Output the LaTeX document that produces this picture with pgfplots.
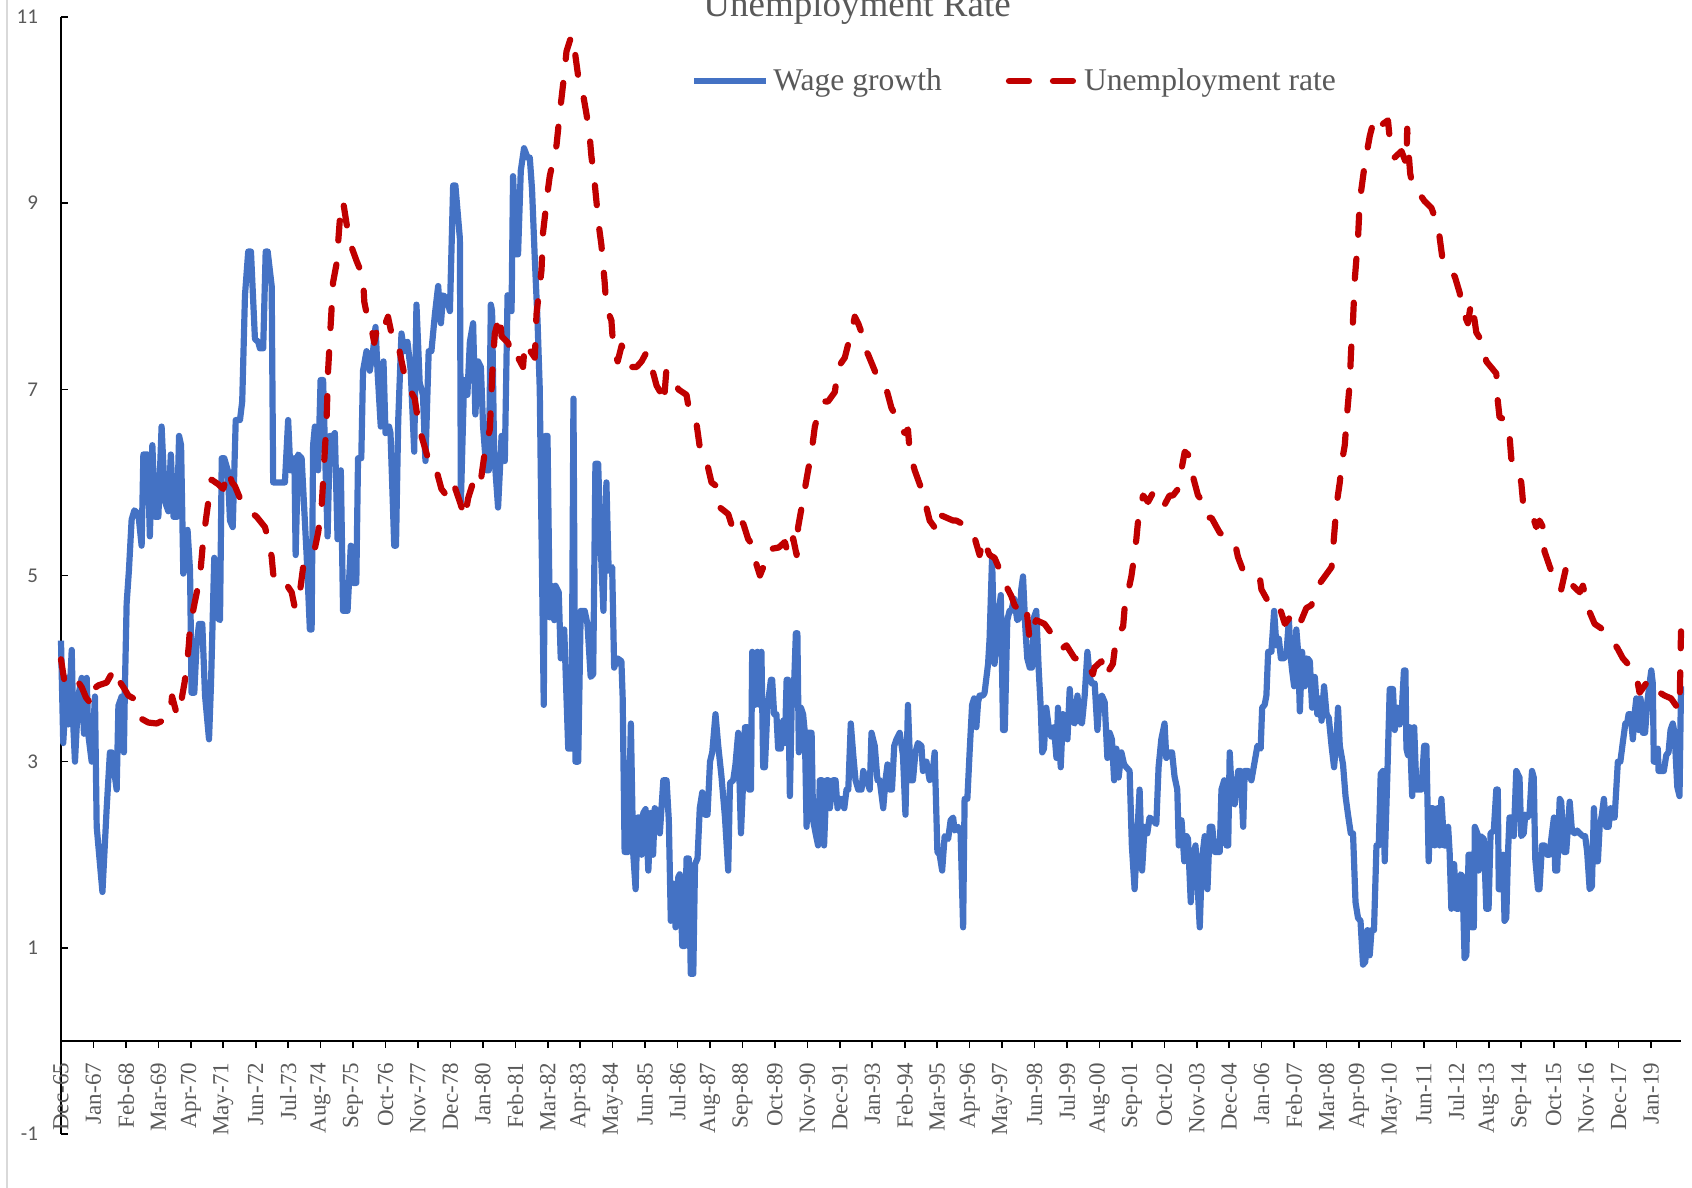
\documentclass[border=0pt]{standalone}
\usepackage{fontspec}
\setmainfont{Liberation Serif}
\newfontfamily\calibri{Carlito}
\usepackage{pgfplots}
\pgfplotsset{compat=1.18}
\definecolor{wblue}{HTML}{4472C4}
\definecolor{ured}{HTML}{C00000}
\definecolor{txtgray}{HTML}{595959}
\pgfplotsset{
  bluelegend/.style={legend image code/.code={\draw[##1] (0pt,0pt) -- (36pt,0pt);}},
  redlegend/.style={legend image code/.code={\draw[##1] (0pt,0pt) -- (34pt,0pt);}},
}
\begin{document}
\begin{tikzpicture}
\begin{axis}[
  at={(0,0)}, anchor=south west,
  scale only axis, width=810pt, height=558.5pt,
  xmin=0, xmax=649, ymin=-1, ymax=11,
  axis x line=middle, axis y line=left,
  axis line style={-, black, line width=1pt},
  hide obscured x ticks=false,
  xtick={0,13,...,637},
  xticklabels={Dec-65,Jan-67,Feb-68,Mar-69,Apr-70,May-71,Jun-72,Jul-73,Aug-74,Sep-75,Oct-76,Nov-77,Dec-78,Jan-80,Feb-81,Mar-82,Apr-83,May-84,Jun-85,Jul-86,Aug-87,Sep-88,Oct-89,Nov-90,Dec-91,Jan-93,Feb-94,Mar-95,Apr-96,May-97,Jun-98,Jul-99,Aug-00,Sep-01,Oct-02,Nov-03,Dec-04,Jan-06,Feb-07,Mar-08,Apr-09,May-10,Jun-11,Jul-12,Aug-13,Sep-14,Oct-15,Nov-16,Dec-17,Jan-19},
  ytick={-1,1,3,5,7,9,11},
  yticklabels={-1,1,3,5,7,9,11},
  xtick align=outside, ytick align=inside,
  major tick length=3.5pt,
  tick style={black, line width=0.8pt},
  xticklabel style={rotate=90, anchor=east, xshift=-4pt, font=\fontsize{11.5}{11.5}\selectfont, text=txtgray},
  yticklabel style={font=\calibri\fontsize{10.5}{10.5}\selectfont, text=txtgray, xshift=-8pt},
  clip=false,
  legend columns=2,
  legend style={draw=none, fill=none, at={(0.385,0.9427)}, anchor=west,
    font=\fontsize{15.8}{15.8}\selectfont, text=txtgray,
    /tikz/every even column/.append style={column sep=30pt}},
]
\addplot[wblue, line width=3.1pt, line join=round, bluelegend] table[row sep=\\] {x y\\
0 4.3\\ 0.9 3.2\\ 2.3 3.9\\ 2.9 3.4\\ 4.3 4.2\\ 4.9 3.4\\ 5.6 3.0\\ 6.9 3.7\\ 8.3 3.9\\ 9.2 3.3\\ 10.3 3.9\\ 10.9 3.3\\ 12.3 3.0\\ 13.6 3.7\\ 14.3 2.3\\ 16.6 1.6\\ 18.3 2.5\\ 19.6 3.1\\ 20.3 3.1\\ 22.3 2.7\\ 23 3.6\\ 24.3 3.7\\ 25.2 3.1\\ 25.6 3.8\\ 26.3 4.7\\ 27.2 5.05\\ 28.3 5.6\\ 29.4 5.7\\ 31 5.66\\ 32.3 5.32\\ 33 6.3\\ 34.7 6.3\\ 35.6 5.42\\ 36.6 6.4\\ 37.7 5.63\\ 39 5.63\\ 40.3 6.6\\ 41.7 5.79\\ 43 5.69\\ 44 6.3\\ 45.1 5.63\\ 46.5 5.63\\ 47.3 6.5\\ 48.1 6.4\\ 49 5.02\\ 50.7 5.49\\ 51.7 5.05\\ 52.3 3.74\\ 53.4 3.74\\ 54.3 4.25\\ 55.3 4.48\\ 56.6 4.48\\ 57.7 3.71\\ 59.3 3.24\\ 60.1 3.84\\ 61.4 5.19\\ 62.6 4.55\\ 63.7 4.52\\ 64.4 6.26\\ 65.4 6.26\\ 66.8 6.13\\ 67.7 5.59\\ 68.8 5.52\\ 70 6.67\\ 71.7 6.67\\ 72.6 6.87\\ 73.7 8.01\\ 75 8.48\\ 76.1 8.48\\ 77.7 7.54\\ 79 7.51\\ 79.7 7.44\\ 81 7.44\\ 82 8.48\\ 82.8 8.48\\ 84.4 8.11\\ 85 6.0\\ 86.4 6.0\\ 89.7 6.0\\ 91 6.67\\ 91.9 6.13\\ 93.5 6.26\\ 94 5.22\\ 95 6.3\\ 96.4 6.26\\ 98.4 5.22\\ 99.7 4.42\\ 100.4 4.42\\ 101 6.4\\ 101.7 6.6\\ 103 6.13\\ 104 7.1\\ 105 7.1\\ 106 6.13\\ 106.8 5.42\\ 107.7 6.5\\ 109 6.5\\ 109.7 6.53\\ 110.8 5.39\\ 112.1 6.13\\ 113 4.62\\ 114.8 4.62\\ 116.1 5.32\\ 117 4.92\\ 118.3 4.92\\ 119 6.26\\ 120.3 6.26\\ 121 7.2\\ 122.4 7.41\\ 123.7 7.2\\ 125 7.41\\ 126 7.67\\ 126.8 7.2\\ 128.1 6.6\\ 129.2 7.3\\ 130 6.53\\ 131.4 6.6\\ 132 6.53\\ 133.5 5.32\\ 134.2 5.32\\ 135.1 6.67\\ 136.4 7.6\\ 137.5 7.41\\ 138.8 7.51\\ 140.1 7.2\\ 141.5 6.33\\ 142.4 7.91\\ 143.7 7.07\\ 145 6.94\\ 146 6.23\\ 147.3 7.41\\ 148.4 7.41\\ 149.8 7.81\\ 151.1 8.11\\ 152.2 7.71\\ 153.1 8.01\\ 154.4 7.98\\ 155.8 7.84\\ 157.1 9.19\\ 158 9.19\\ 159.8 8.62\\ 160.2 5.79\\ 161.5 7.1\\ 162.8 6.94\\ 163.8 7.51\\ 165.1 7.71\\ 166 6.73\\ 167.1 7.3\\ 168.2 7.24\\ 169.1 6.6\\ 170.4 6.13\\ 171.4 6.13\\ 172.2 7.91\\ 172.7 7.84\\ 173.5 6.33\\ 175.1 5.73\\ 176.5 6.5\\ 177.8 6.23\\ 178.9 8.01\\ 180.5 7.84\\ 181.1 9.29\\ 182.5 8.45\\ 183.1 8.45\\ 184.2 9.35\\ 185.5 9.59\\ 186.9 9.49\\ 187.8 9.49\\ 188.7 9.15\\ 189.8 8.41\\ 190.9 7.74\\ 191.8 7.0\\ 192.5 5.46\\ 193.4 3.61\\ 194.1 6.5\\ 194.9 6.5\\ 195.8 4.55\\ 196.5 4.89\\ 197.6 4.52\\ 198.1 4.89\\ 199.4 4.82\\ 200.2 4.11\\ 201.6 4.42\\ 203.2 3.14\\ 204.5 3.14\\ 205.3 6.9\\ 206.1 3.0\\ 207.2 3.0\\ 208.2 4.62\\ 209.8 4.62\\ 210.9 4.48\\ 212.2 3.91\\ 213.2 3.94\\ 214.1 6.2\\ 215.2 6.2\\ 216.2 5.32\\ 217.3 4.62\\ 218.5 6.0\\ 219.4 5.05\\ 220.8 5.09\\ 221.6 4.01\\ 222.9 4.11\\ 224.5 4.08\\ 225 3.7\\ 225.8 2.03\\ 227.2 2.03\\ 228.3 3.41\\ 229.2 2.03\\ 230.2 1.63\\ 231 2.4\\ 231.9 2.4\\ 232.6 2.0\\ 233.3 2.45\\ 234.2 2.49\\ 235.3 1.83\\ 236.3 2.45\\ 237.2 2.0\\ 237.9 2.5\\ 239 2.45\\ 239.9 2.23\\ 241.3 2.8\\ 242.6 2.8\\ 243.5 2.37\\ 244.3 1.29\\ 245.3 1.69\\ 246.2 1.22\\ 247.3 1.76\\ 247.9 1.79\\ 248.9 1.02\\ 249.9 1.02\\ 250.6 1.96\\ 251.5 1.96\\ 252.3 0.72\\ 253.3 0.72\\ 254 1.9\\ 255 1.96\\ 255.9 2.5\\ 256.9 2.67\\ 258 2.43\\ 259 2.43\\ 260 3.0\\ 260.9 3.1\\ 262.2 3.51\\ 263.3 3.17\\ 264.6 2.84\\ 266 2.4\\ 267.3 1.83\\ 268 2.77\\ 269.3 2.8\\ 270.2 2.97\\ 271.3 3.31\\ 272.4 2.23\\ 273.3 2.8\\ 274 3.37\\ 275 3.37\\ 275.6 2.7\\ 276.4 2.7\\ 276.9 4.18\\ 278 3.61\\ 279 4.18\\ 279.9 3.61\\ 280.6 4.18\\ 281.3 2.94\\ 282 2.94\\ 283 3.58\\ 284.4 3.88\\ 284.9 3.88\\ 285.7 3.51\\ 286.6 3.51\\ 287.3 3.14\\ 288.4 3.14\\ 289.3 3.44\\ 290 3.2\\ 290.7 3.88\\ 291.3 3.88\\ 292 2.63\\ 292.9 3.84\\ 293.7 3.84\\ 294.4 4.38\\ 295 4.38\\ 295.6 3.1\\ 296.4 3.58\\ 297.3 3.51\\ 298 3.31\\ 298.7 2.3\\ 299.3 3.31\\ 300.7 3.31\\ 301.3 2.37\\ 302.3 2.23\\ 303.3 2.1\\ 304 2.8\\ 304.9 2.8\\ 305.7 2.1\\ 306.7 2.8\\ 307.4 2.8\\ 308 2.5\\ 309.3 2.8\\ 310.3 2.8\\ 311.1 2.5\\ 312.4 2.6\\ 313.8 2.5\\ 314.7 2.7\\ 315.4 2.7\\ 316.4 3.41\\ 317.4 3.07\\ 318.3 2.8\\ 319.4 2.7\\ 320.7 2.7\\ 321.4 2.9\\ 322.7 2.8\\ 324 2.7\\ 324.7 3.31\\ 326 3.17\\ 327.1 2.8\\ 328 2.8\\ 329.4 2.5\\ 330.3 2.8\\ 331.1 2.97\\ 332 2.7\\ 332.9 2.7\\ 333.8 3.17\\ 334.7 3.24\\ 336 3.31\\ 337.3 3.07\\ 338.3 2.43\\ 339.3 3.61\\ 340.4 2.8\\ 341.3 2.8\\ 342.3 3.1\\ 343.3 3.2\\ 344.7 3.17\\ 345.3 2.9\\ 346.7 3.0\\ 348 2.8\\ 349 2.83\\ 350 3.1\\ 351.1 2.03\\ 352 2.0\\ 353 1.83\\ 354 2.2\\ 355.4 2.17\\ 356.4 2.37\\ 357.4 2.4\\ 358 2.26\\ 359.4 2.3\\ 360.4 2.23\\ 361.4 1.22\\ 362 2.6\\ 363.1 2.6\\ 364 3.1\\ 365 3.61\\ 365.8 3.68\\ 366.7 3.37\\ 367.4 3.64\\ 368 3.71\\ 369.4 3.71\\ 370 3.74\\ 371.4 4.05\\ 372 4.32\\ 373 5.19\\ 374 4.05\\ 375.4 4.55\\ 376.5 4.79\\ 377.4 3.34\\ 378.1 3.34\\ 379.1 4.52\\ 380 4.62\\ 380.7 4.62\\ 381.8 4.75\\ 383.1 4.52\\ 384.1 4.55\\ 384.7 4.85\\ 385.4 4.99\\ 386.3 4.45\\ 387.1 4.11\\ 388.1 4.01\\ 389 4.01\\ 389.8 4.55\\ 390.7 4.62\\ 391.7 3.98\\ 392.5 3.58\\ 393.1 3.1\\ 393.8 3.14\\ 394.7 3.58\\ 395.7 3.37\\ 396.7 3.27\\ 397.8 3.37\\ 398.8 3.04\\ 399.4 3.58\\ 400.5 2.94\\ 401.4 3.51\\ 402.4 3.47\\ 403.2 3.24\\ 404.1 3.78\\ 405 3.44\\ 406.1 3.41\\ 407.2 3.71\\ 408.1 3.44\\ 409 3.41\\ 410.1 3.71\\ 411.2 4.18\\ 412.1 3.91\\ 413 3.84\\ 414.1 3.84\\ 415.2 3.34\\ 416.1 3.68\\ 417 3.71\\ 418.1 3.64\\ 419.2 3.04\\ 420.1 3.31\\ 421 3.24\\ 421.9 2.8\\ 422.8 3.14\\ 423.7 2.83\\ 424.8 3.1\\ 425.9 2.97\\ 426.8 2.94\\ 428.1 2.9\\ 429 2.1\\ 430.1 1.63\\ 431.2 2.23\\ 432.1 2.7\\ 433.1 1.83\\ 434.1 2.3\\ 435.2 2.23\\ 436.1 2.4\\ 437.5 2.37\\ 438.8 2.33\\ 439.7 2.94\\ 440.8 3.24\\ 442.1 3.41\\ 442.8 3.04\\ 444.1 3.1\\ 445.1 3.1\\ 446.1 2.84\\ 447.2 2.7\\ 447.8 2.1\\ 448.9 2.37\\ 450 1.93\\ 450.9 2.2\\ 451.5 2.17\\ 452.6 1.49\\ 453.5 1.96\\ 454.5 2.1\\ 455.3 1.69\\ 456.2 1.22\\ 457.1 1.96\\ 458.2 2.2\\ 459.3 1.63\\ 460.2 2.3\\ 461.2 2.3\\ 462.2 2.03\\ 464.2 2.03\\ 464.9 2.7\\ 466 2.8\\ 466.9 2.1\\ 467.6 2.1\\ 468.2 3.1\\ 469.2 2.57\\ 470.2 2.54\\ 471.6 2.9\\ 472.6 2.9\\ 473.6 2.3\\ 474.2 2.9\\ 475.5 2.9\\ 476.9 2.8\\ 478.2 3.0\\ 479.3 3.17\\ 480.6 3.14\\ 481.2 3.58\\ 482.2 3.61\\ 482.9 3.71\\ 483.6 4.18\\ 484.9 4.18\\ 486 4.62\\ 486.9 4.25\\ 487.9 4.32\\ 488.7 4.11\\ 490 4.11\\ 490.9 4.15\\ 491.9 4.52\\ 492.7 4.11\\ 493.2 3.98\\ 494 3.81\\ 494.9 4.42\\ 495.6 4.18\\ 496.3 3.54\\ 497.2 4.18\\ 498.3 3.81\\ 499.3 4.11\\ 500.3 4.08\\ 501.2 3.58\\ 502.3 3.91\\ 503.3 3.51\\ 504.3 3.68\\ 505 3.44\\ 506 3.81\\ 507 3.51\\ 507.9 3.47\\ 509 3.17\\ 510 2.94\\ 511 3.24\\ 511.6 3.58\\ 512.3 3.17\\ 513.6 2.97\\ 514.6 2.63\\ 515.6 2.43\\ 516.7 2.23\\ 517.6 2.23\\ 518.6 1.49\\ 519.6 1.32\\ 520.6 1.29\\ 521.6 0.82\\ 522.5 0.85\\ 523.4 1.19\\ 524.3 0.92\\ 525 1.19\\ 526 1.19\\ 527 2.1\\ 527.9 2.1\\ 528.7 2.87\\ 529.6 2.9\\ 530.3 1.93\\ 531.4 2.9\\ 532.3 3.78\\ 533.6 3.78\\ 534.3 3.34\\ 535.4 3.58\\ 536.3 3.4\\ 537.2 3.58\\ 538 3.98\\ 538.6 3.98\\ 539 3.14\\ 539.6 3.07\\ 540.3 3.37\\ 541.3 2.63\\ 542.1 3.37\\ 543 2.7\\ 545 2.7\\ 546.1 3.17\\ 547 3.17\\ 547.9 1.93\\ 548.7 2.5\\ 549.6 2.5\\ 550.3 2.1\\ 551.4 2.5\\ 552.3 2.1\\ 553 2.6\\ 554.1 2.1\\ 555 2.1\\ 555.7 2.3\\ 556.3 2.03\\ 557 1.42\\ 558.1 1.9\\ 559 1.42\\ 560 1.42\\ 560.7 1.79\\ 561.4 1.77\\ 562.3 0.89\\ 563 0.92\\ 563.9 2.0\\ 564.7 2.0\\ 565.2 1.22\\ 566 1.22\\ 566.4 2.3\\ 567.4 2.23\\ 567.9 1.83\\ 568.7 2.2\\ 570 2.17\\ 571 1.42\\ 571.9 1.42\\ 572.7 2.23\\ 574 2.26\\ 575 2.7\\ 575.6 2.7\\ 576 1.63\\ 576.9 1.63\\ 577.7 2.0\\ 578.3 1.29\\ 579 1.32\\ 579.7 2.03\\ 580.3 2.4\\ 581.2 2.4\\ 582 2.2\\ 583 2.9\\ 584.3 2.83\\ 585 2.2\\ 586 2.23\\ 586.6 2.43\\ 587.4 2.4\\ 588.3 2.43\\ 589.3 2.9\\ 590 2.83\\ 590.6 1.96\\ 591.7 1.63\\ 592.3 1.63\\ 593.3 2.1\\ 594.3 2.1\\ 595.4 2.0\\ 596.3 2.0\\ 597.3 2.23\\ 598.1 2.4\\ 598.6 1.83\\ 599.4 1.83\\ 600.4 2.6\\ 601 2.57\\ 602.1 2.03\\ 603 2.03\\ 604.4 2.57\\ 605.3 2.26\\ 606.4 2.23\\ 607.4 2.26\\ 608.4 2.23\\ 609.7 2.2\\ 610.6 2.2\\ 611.4 2.03\\ 612.4 1.63\\ 613.3 1.66\\ 614.1 2.5\\ 615 1.93\\ 615.7 1.93\\ 616.4 2.3\\ 617.3 2.43\\ 618.1 2.6\\ 619 2.3\\ 620 2.3\\ 620.8 2.5\\ 621.7 2.4\\ 622.4 2.4\\ 623.7 3.0\\ 624.7 3.0\\ 625.7 3.21\\ 626.7 3.41\\ 627.4 3.41\\ 628 3.51\\ 628.8 3.51\\ 629.7 3.24\\ 630.4 3.51\\ 631.1 3.68\\ 632 3.34\\ 632.8 3.68\\ 633.7 3.31\\ 634.6 3.31\\ 635.5 3.64\\ 636.4 3.84\\ 637.1 3.98\\ 637.7 3.84\\ 638.1 3.0\\ 639 3.0\\ 639.7 3.14\\ 640 2.9\\ 641 2.9\\ 642.1 2.9\\ 643.1 3.07\\ 644 3.1\\ 644.8 3.34\\ 645.7 3.41\\ 646.4 3.31\\ 647.5 2.73\\ 648.4 2.63\\ 649 3.81\\
};
\addlegendentry{Wage growth}
\addplot[ured, line width=3.1pt, line cap=round, line join=round, dash pattern=on 10pt off 12pt, redlegend] table[row sep=\\] {x y\\
0 4.1\\ 1.6 3.82\\ 4 3.85\\ 6.3 3.88\\ 8.3 3.8\\ 10 3.69\\ 12.3 3.61\\ 13 3.78\\ 15 3.82\\ 18.3 3.85\\ 21 3.98\\ 22 4.0\\ 23 3.88\\ 25 3.8\\ 27 3.71\\ 29 3.68\\ 30.3 3.54\\ 31.6 3.47\\ 35 3.42\\ 38.3 3.41\\ 41.5 3.45\\ 43.7 3.5\\ 44.5 3.7\\ 46 3.55\\ 47.7 3.5\\ 48.5 3.7\\ 49.5 3.85\\ 50.5 4.05\\ 51.2 4.25\\ 51.7 4.45\\ 53.5 4.7\\ 55.7 4.99\\ 57 5.39\\ 59 5.79\\ 60.3 6.03\\ 63 5.98\\ 65 5.93\\ 67 6.13\\ 68.5 6.0\\ 69.7 5.96\\ 71.7 5.83\\ 73 5.79\\ 75.7 5.69\\ 78.4 5.63\\ 81.7 5.52\\ 83 5.39\\ 84.4 5.2\\ 85 5.02\\ 86.4 4.92\\ 88.4 4.95\\ 90.4 4.9\\ 92.4 4.82\\ 93.7 4.65\\ 95.7 4.82\\ 97 5.09\\ 100.4 5.26\\ 101.7 5.29\\ 103 5.46\\ 104.4 5.73\\ 106.4 6.67\\ 107 7.2\\ 109 8.15\\ 110.4 8.35\\ 111.7 8.82\\ 113 9.02\\ 114.4 8.78\\ 115.7 8.58\\ 118.4 8.38\\ 121 8.21\\ 121.5 7.94\\ 123 7.74\\ 124 7.71\\ 125.5 7.5\\ 126.4 7.62\\ 128 7.7\\ 129 7.64\\ 131 7.78\\ 132.4 7.6\\ 135 7.54\\ 135.7 7.4\\ 137.7 7.14\\ 139.7 7.0\\ 141.7 6.9\\ 143 6.67\\ 144.4 6.5\\ 147 6.26\\ 149 6.13\\ 150.4 6.13\\ 152.4 5.93\\ 154.4 5.86\\ 157.1 6.0\\ 159.8 5.79\\ 161.8 5.62\\ 163.1 5.83\\ 165.1 6.0\\ 166.4 5.93\\ 168.4 6.06\\ 169.8 6.33\\ 171.8 6.57\\ 173 7.3\\ 173.8 7.6\\ 175.8 7.8\\ 176.5 7.57\\ 179.1 7.5\\ 179.8 7.44\\ 181.8 7.3\\ 183.1 7.34\\ 185.1 7.24\\ 185.8 7.5\\ 189.8 7.34\\ 190.5 7.81\\ 192.5 8.28\\ 193.1 8.68\\ 195.1 9.15\\ 195.8 9.29\\ 198.5 9.62\\ 199.8 9.96\\ 201.8 10.43\\ 202.5 10.63\\ 204.5 10.8\\ 205.5 10.7\\ 207.2 10.36\\ 209.2 10.16\\ 210.5 9.96\\ 211.8 9.72\\ 212.5 9.5\\ 213.5 9.3\\ 214.5 9.02\\ 215.5 8.75\\ 216.5 8.55\\ 217.3 8.3\\ 217.8 8.15\\ 218.5 7.88\\ 220.5 7.74\\ 221.2 7.47\\ 223 7.3\\ 224.6 7.47\\ 225.9 7.4\\ 227.9 7.24\\ 230.6 7.24\\ 232.6 7.3\\ 234.6 7.4\\ 236.6 7.24\\ 238.6 7.04\\ 240.5 6.95\\ 241.5 6.85\\ 242.5 7.2\\ 245.9 7.14\\ 247.3 7.0\\ 250.6 6.94\\ 251.9 6.73\\ 254.6 6.63\\ 256 6.36\\ 258.6 6.23\\ 260.6 6.0\\ 262.6 5.96\\ 264 5.73\\ 267.3 5.66\\ 269.3 5.49\\ 270 5.59\\ 273.3 5.56\\ 275.3 5.39\\ 277.3 5.32\\ 278.6 5.12\\ 280 5.0\\ 281.5 5.1\\ 282.6 5.26\\ 285.3 5.29\\ 287.5 5.3\\ 290 5.36\\ 291.3 5.22\\ 293.3 5.4\\ 294.7 5.22\\ 295.3 5.52\\ 296.7 5.73\\ 298 5.93\\ 299.3 6.13\\ 300.7 6.33\\ 302 6.6\\ 303.3 6.73\\ 306 6.87\\ 307.3 6.87\\ 310 6.97\\ 311.4 7.24\\ 314 7.34\\ 315.5 7.5\\ 316.7 7.61\\ 318 7.78\\ 319.5 7.7\\ 320.7 7.61\\ 322 7.44\\ 323.4 7.37\\ 326 7.2\\ 327.4 7.1\\ 330.7 7.0\\ 332.7 6.8\\ 334.7 6.7\\ 336 6.6\\ 338 6.53\\ 339.3 6.57\\ 340 6.33\\ 342 6.13\\ 344.7 5.93\\ 346.7 5.73\\ 348 5.59\\ 350.7 5.49\\ 351.4 5.66\\ 357.4 5.59\\ 358.7 5.59\\ 363.4 5.52\\ 365.4 5.46\\ 368 5.22\\ 369.4 5.39\\ 372 5.22\\ 374 5.19\\ 376.7 5.02\\ 378 4.92\\ 380.7 4.78\\ 382 4.68\\ 384 4.62\\ 386.7 4.68\\ 388 4.31\\ 388.7 4.42\\ 390.7 4.52\\ 394 4.48\\ 396.7 4.38\\ 398.8 4.28\\ 400.8 4.21\\ 402.8 4.25\\ 406.1 4.11\\ 410 4.11\\ 413.4 3.94\\ 414 4.01\\ 416.8 4.08\\ 418.1 3.91\\ 421.4 4.05\\ 422.8 4.35\\ 425.5 4.45\\ 426.1 4.65\\ 428.8 4.99\\ 429.5 5.12\\ 430.8 5.39\\ 431.5 5.59\\ 433.5 5.86\\ 435.5 5.79\\ 437.5 5.89\\ 441.5 5.73\\ 444.1 5.86\\ 445.5 5.86\\ 447.5 5.93\\ 448.8 6.13\\ 450.2 6.33\\ 451.5 6.3\\ 453.5 6.06\\ 455.5 5.86\\ 457.5 5.79\\ 459.5 5.62\\ 460.9 5.62\\ 464.2 5.46\\ 466.2 5.42\\ 470.2 5.36\\ 471.5 5.2\\ 473.6 5.05\\ 476.2 5.02\\ 480.2 4.99\\ 480.9 4.85\\ 483.6 4.72\\ 484.9 4.65\\ 486.9 4.62\\ 488.3 4.65\\ 490.3 4.48\\ 492.3 4.55\\ 492.9 4.45\\ 494.9 4.45\\ 496.9 4.52\\ 498.9 4.65\\ 500.9 4.68\\ 503.6 4.89\\ 509 5.09\\ 510.3 5.52\\ 511 5.76\\ 512.3 6.0\\ 513 6.2\\ 514.3 6.4\\ 515 6.67\\ 516.3 7.07\\ 516.8 7.4\\ 517.6 7.74\\ 518.3 8.18\\ 519.6 8.62\\ 520.3 9.02\\ 522.3 9.42\\ 524.3 9.72\\ 526.3 9.93\\ 527.6 9.86\\ 529.5 9.85\\ 531.6 9.89\\ 532.3 9.69\\ 534.3 9.49\\ 537 9.56\\ 539 9.42\\ 539.3 9.8\\ 539.7 9.6\\ 540.5 9.32\\ 541.7 9.15\\ 543.7 9.12\\ 546.3 9.02\\ 549 8.95\\ 551.7 8.75\\ 552.7 8.55\\ 553.7 8.35\\ 556 8.3\\ 558.4 8.21\\ 560.3 8.04\\ 561.6 7.84\\ 563.6 7.71\\ 565 7.94\\ 566.3 7.74\\ 567 7.61\\ 569.6 7.5\\ 571 7.3\\ 575 7.17\\ 575.5 6.9\\ 576.3 6.7\\ 579 6.67\\ 580.3 6.5\\ 581 6.26\\ 581.7 6.2\\ 583 6.16\\ 585 6.0\\ 585.7 5.79\\ 587.7 5.73\\ 589 5.69\\ 591 5.52\\ 592.3 5.59\\ 593.7 5.52\\ 594.3 5.26\\ 597 5.05\\ 599 5.02\\ 601 4.85\\ 603 5.09\\ 605 5.02\\ 605.7 4.89\\ 608.4 4.82\\ 609.7 4.89\\ 611 4.75\\ 612.5 4.6\\ 614.4 4.48\\ 617.7 4.42\\ 620.4 4.35\\ 623.7 4.21\\ 625.7 4.11\\ 627.7 4.05\\ 628.4 4.01\\ 631 3.94\\ 632.4 3.74\\ 635 3.84\\ 635.7 3.88\\ 638.4 3.81\\ 640 3.75\\ 642.4 3.71\\ 645 3.68\\ 648.4 3.55\\ 649 4.4\\
};
\addlegendentry{Unemployment rate}
\node[font=\fontsize{18.5}{18.5}\selectfont, text=txtgray, anchor=base] at (axis description cs:0.4914,1) {Unemployment Rate};
\end{axis}
\draw[color=black!15, line width=1pt] (-27pt,-27pt) -- (-27pt,567pt);
\pgfresetboundingbox
\useasboundingbox (-30.5pt,-27pt) rectangle (815.5pt,567pt);
\end{tikzpicture}
\end{document}
